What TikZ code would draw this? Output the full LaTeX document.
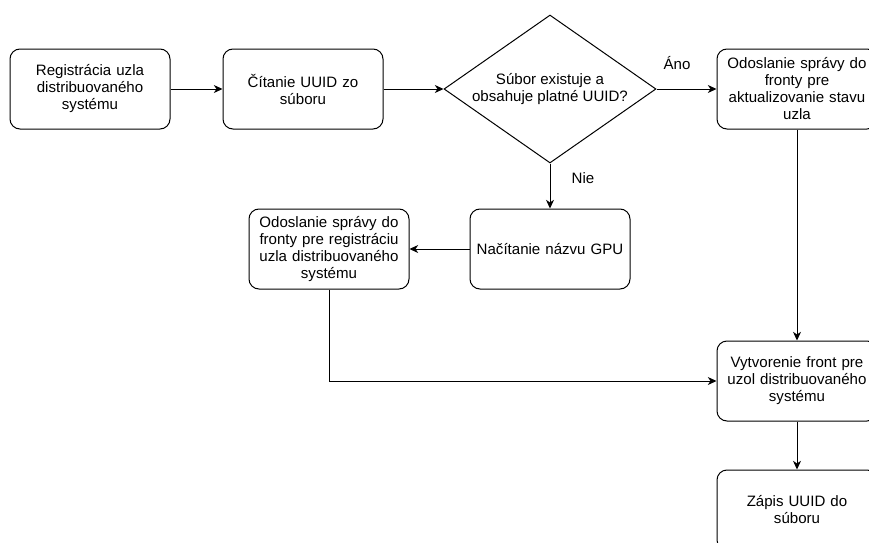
\documentclass[tikz,border=0pt]{standalone}
\usepackage{fontspec}
\setmainfont{Liberation Sans}
\usepackage{tikz}
\usetikzlibrary{shapes.geometric, arrows.meta}

\begin{document}
\begin{tikzpicture}[x=0.75pt, y=-0.75pt, font=\fontsize{11.3}{12.75}\selectfont]

\tikzstyle{process} =
[rectangle,
rounded corners=7.5pt,
minimum width=120pt,
minimum height=60pt,
text width=120pt,
inner sep=0pt,
align=center,
draw=black,
line width=0.75pt]

\tikzstyle{decision} =
[diamond,
aspect=1.43,
minimum width=159pt,
minimum height=111pt,
inner sep=0pt,
align=center,
draw=black,
line width=0.75pt]

\tikzstyle{flow} =
[-{Stealth[length=6.5pt, width=6pt, inset=2pt]},
line width=0.75pt]

\useasboundingbox (0,0) rectangle (869,543);
\clip (0,0) rectangle (869,543);

\node (reg) [process] at (90,89)
{Registrácia uzla\\distribuovaného\\systému};

\node (read) [process] at (303,89)
{Čítanie UUID zo\\súboru};

\node (check) [decision] at (550,89)
{Súbor existuje a\\obsahuje platné UUID?};

\node (state) [process] at (797,89)
{Odoslanie správy do\\fronty pre\\aktualizovanie stavu\\uzla};

\node (gpu) [process] at (550,249)
{Načítanie názvu GPU};

\node (regmsg) [process] at (329,249)
{Odoslanie správy do\\fronty pre registráciu\\uzla distribuovaného\\systému};

\node (queues) [process] at (797,381)
{Vytvorenie front pre\\uzol distribuovaného\\systému};

\node (write) [process] at (797,510)
{Zápis UUID do\\súboru};

\node (yes) at (677,63) {Áno};
\node (no) at (583,178) {Nie};

\draw[flow] (reg) -- (read);
\draw[flow] (read) -- (check.west);
\draw[flow] (check.east) -- (state);
\draw[flow] (check.south) -- (gpu);
\draw[flow] (gpu) -- (regmsg);
\draw[flow] (state) -- (queues);
\draw[flow] (regmsg.south) |- (queues.west);
\draw[flow] (queues) -- (write);

\end{tikzpicture}
\end{document}
